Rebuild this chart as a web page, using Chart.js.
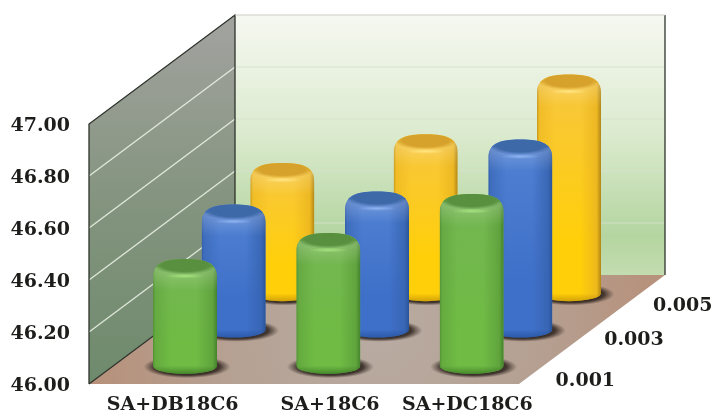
<!DOCTYPE html>
<html>
<head>
<meta charset="utf-8">
<style>html,body{margin:0;padding:0;background:#fff}canvas{display:block}</style>
<script src="https://cdn.jsdelivr.net/npm/chart.js@4/dist/chart.umd.js"></script>
</head>
<body>
<canvas id="c" width="719" height="416"></canvas>
<script>
const categories = ['SA+DB18C6', 'SA+18C6', 'SA+DC18C6'];
const concentrations = ['0.001', '0.003', '0.005'];
const series001 = [46.38, 46.48, 46.63];
const series003 = [46.45, 46.50, 46.70];
const series005 = [46.47, 46.58, 46.81];
const yTicks = [46, 46.2, 46.4, 46.6, 46.8, 47];

// Category label nudges along the front edge of the floor
const categoryLabelShift = [12, 26, 20];
// Vertical nudges for the depth labels beside the floor edge
const depthLabelDrop = [15, 11, 13];

// Oblique projection: offset of the back wall from the front plane
const DEPTH_X = 146, DEPTH_Y = -109;
const CAP_RY = 8;

const palettes = [
  { edge: '#3d7a28', side: '#5d9f3b', mid: '#6fbb44', upper: '#74b552', cap: '#58903f', glow: '#a6e47e', low: '#2f6a1e' },
  { edge: '#244f92', side: '#3763b0', mid: '#3f70c9', upper: '#4f80d2', cap: '#3e69a8', glow: '#8fb4f0', low: '#1f4d96' },
  { edge: '#a67c14', side: '#eab41f', mid: '#ffcf0a', upper: '#f7c63e', cap: '#d6a22c', glow: '#ffe683', low: '#b98908' }
];

class ShiftedCategoryScale extends Chart.CategoryScale {
  _computeLabelItems(area) {
    const items = super._computeLabelItems(area);
    items.forEach((item, i) => { item.options.translation[0] += categoryLabelShift[i] || 0; });
    return items;
  }
}
ShiftedCategoryScale.id = 'shiftedCategory';
ShiftedCategoryScale.defaults = Chart.CategoryScale.defaults;
Chart.register(ShiftedCategoryScale);

function linGrad(ctx, x0, y0, x1, y1, stops) {
  const g = ctx.createLinearGradient(x0, y0, x1, y1);
  stops.forEach(([p, c]) => g.addColorStop(p, c));
  return g;
}

function drawRoom(chart) {
  const { ctx, chartArea: a, scales: { y } } = chart;
  const L = a.left, R = a.right, T = a.top, B = a.bottom;
  const bx = DEPTH_X, by = DEPTH_Y;
  ctx.save();

  // back wall
  ctx.fillStyle = linGrad(ctx, 0, T + by, 0, B + by, [
    [0, '#f6f8f1'], [0.45, '#dcebcf'], [0.85, '#b4d5a0'], [1, '#c3dcb0']
  ]);
  ctx.fillRect(L + bx, T + by, R - L, B - T);

  // side wall
  ctx.beginPath();
  ctx.moveTo(L, B); ctx.lineTo(L, T); ctx.lineTo(L + bx, T + by); ctx.lineTo(L + bx, B + by); ctx.closePath();
  ctx.fillStyle = linGrad(ctx, 0, T + by, 0, B, [
    [0, '#a3a3a0'], [0.5, '#84947f'], [1, '#6e8a6c']
  ]);
  ctx.fill();

  // floor
  ctx.beginPath();
  ctx.moveTo(L, B); ctx.lineTo(R, B); ctx.lineTo(R + bx, B + by); ctx.lineTo(L + bx, B + by); ctx.closePath();
  const floor = ctx.createRadialGradient((L + R + bx) / 2, B + by / 2, 20, (L + R + bx) / 2, B + by / 2, 300);
  floor.addColorStop(0, '#b8aaa0');
  floor.addColorStop(0.5, '#b5a092');
  floor.addColorStop(1, '#b78f78');
  ctx.fillStyle = floor;
  ctx.fill();

  // gridlines across both walls
  yTicks.slice(1, -1).forEach(v => {
    const py = y.getPixelForValue(v);
    ctx.beginPath();
    ctx.moveTo(L, py); ctx.lineTo(L + bx, py + by);
    ctx.strokeStyle = 'rgba(232,240,226,0.9)';
    ctx.lineWidth = 1.4;
    ctx.stroke();
    ctx.beginPath();
    ctx.moveTo(L + bx, py + by); ctx.lineTo(R + bx, py + by);
    ctx.strokeStyle = 'rgba(215,225,208,0.85)';
    ctx.lineWidth = 1;
    ctx.stroke();
  });

  // wall edges
  ctx.strokeStyle = '#2e332c';
  ctx.lineWidth = 1.3;
  ctx.beginPath();
  ctx.moveTo(L, B); ctx.lineTo(L, T); ctx.lineTo(L + bx, T + by); ctx.lineTo(L + bx, B + by);
  ctx.lineTo(L, B);
  ctx.stroke();
  ctx.beginPath();
  ctx.moveTo(R + bx, T + by); ctx.lineTo(R + bx, B + by);
  ctx.stroke();
  ctx.strokeStyle = '#c9cbc6';
  ctx.lineWidth = 1.2;
  ctx.beginPath();
  ctx.moveTo(L + bx, T + by); ctx.lineTo(R + bx, T + by);
  ctx.stroke();
  ctx.restore();
}

function drawCylinder(ctx, cx, topY, baseY, r, pal) {
  const ry = CAP_RY;
  ctx.save();

  // contact shadow on the floor
  ctx.save();
  ctx.translate(cx + 2, baseY + 1);
  ctx.scale(1, 0.26);
  const sh = ctx.createRadialGradient(0, 0, r * 0.7, 0, 0, r * 1.36);
  sh.addColorStop(0, 'rgba(30,22,18,0.95)');
  sh.addColorStop(0.5, 'rgba(40,30,25,0.8)');
  sh.addColorStop(1, 'rgba(60,45,38,0)');
  ctx.fillStyle = sh;
  ctx.beginPath();
  ctx.arc(0, 0, r * 1.36, 0, Math.PI * 2);
  ctx.fill();
  ctx.restore();

  // silhouette with softened shoulders
  const path = new Path2D();
  path.moveTo(cx - r, baseY);
  path.lineTo(cx - r, topY + 11);
  path.bezierCurveTo(cx - r, topY - 3, cx - r * 0.72, topY - ry, cx, topY - ry);
  path.bezierCurveTo(cx + r * 0.72, topY - ry, cx + r, topY - 3, cx + r, topY + 11);
  path.lineTo(cx + r, baseY);
  path.ellipse(cx, baseY, r, ry, 0, 0, Math.PI);
  path.closePath();
  ctx.clip(path);

  // body tone runs from the paler upper part to the saturated foot
  ctx.fillStyle = linGrad(ctx, 0, topY, 0, baseY, [[0, pal.upper], [0.75, pal.mid], [1, pal.mid]]);
  ctx.fillRect(cx - r, topY - ry - 1, 2 * r, baseY - topY + 2 * ry + 2);

  // side shading, left to right
  ctx.fillStyle = linGrad(ctx, cx - r, 0, cx + r, 0, [
    [0, pal.edge + 'a0'], [0.04, pal.side + '90'], [0.28, pal.side + '00'], [0.68, pal.side + '00'],
    [0.93, pal.side + 'd0'], [1, pal.edge + 'e0']
  ]);
  ctx.fillRect(cx - r, topY - ry - 1, 2 * r, baseY - topY + 2 * ry + 2);

  // darker lip around the foot
  ctx.fillStyle = linGrad(ctx, 0, baseY, 0, baseY + ry, [[0, pal.low + '00'], [1, pal.low + 'a0']]);
  ctx.fillRect(cx - r, baseY, 2 * r, ry + 1);

  // rolled rim catches the light
  ctx.fillStyle = linGrad(ctx, 0, topY, 0, topY + 24, [[0, 'rgba(255,255,255,0.22)'], [1, 'rgba(255,255,255,0)']]);
  ctx.fillRect(cx - r, topY, 2 * r, 24);

  // top face, fading softly into the rim
  ctx.save();
  ctx.translate(cx, topY - 1);
  ctx.scale(1, (ry + 0.5) / (r * 0.98));
  const face = ctx.createRadialGradient(0, -r * 0.25, r * 0.3, 0, 0, r * 0.98);
  face.addColorStop(0, pal.cap);
  face.addColorStop(0.62, pal.cap);
  face.addColorStop(1, pal.cap + '00');
  ctx.fillStyle = face;
  ctx.beginPath();
  ctx.arc(0, 0, r * 0.98, 0, Math.PI * 2);
  ctx.fill();
  ctx.restore();

  // highlight where the rim rolls over
  ctx.save();
  ctx.translate(cx, topY + 9);
  ctx.scale(1, 0.12);
  const hl = ctx.createRadialGradient(0, 0, 0, 0, 0, r * 0.62);
  hl.addColorStop(0, pal.glow);
  hl.addColorStop(1, pal.glow + '00');
  ctx.fillStyle = hl;
  ctx.beginPath();
  ctx.arc(0, 0, r * 0.62, 0, Math.PI * 2);
  ctx.fill();
  ctx.restore();

  ctx.restore();
}

const roomPlugin = {
  id: 'room',
  beforeDatasetsDraw(chart) { drawRoom(chart); },
  beforeDatasetDraw(chart, args) {
    const { ctx } = chart;
    const i = args.index;
    const depth = (i + 0.5) / concentrations.length;
    args.meta.data.forEach(bar => {
      drawCylinder(ctx, bar.x + DEPTH_X * depth, bar.y + DEPTH_Y * depth,
        bar.base + DEPTH_Y * depth, bar.width / 2, palettes[i]);
    });
    return false;
  },
  afterDraw(chart) {
    // depth-axis labels run along the right edge of the floor
    const { ctx, chartArea: a } = chart;
    ctx.save();
    ctx.font = 'bold 19px "DejaVu Serif"';
    ctx.fillStyle = '#1d1d1b';
    ctx.textAlign = 'center';
    ctx.textBaseline = 'middle';
    concentrations.forEach((label, i) => {
      const depth = (i + 0.5) / concentrations.length;
      ctx.fillText(label, a.right + DEPTH_X * depth + 42, a.bottom + DEPTH_Y * depth + depthLabelDrop[i]);
    });
    ctx.restore();
  }
};

const seriesValues = [series001, series003, series005];

new Chart(document.getElementById('c'), {
  type: 'bar',
  data: {
    labels: categories,
    datasets: concentrations.map((label, i) => ({
      label,
      data: seriesValues[i],
      base: yTicks[0],
      grouped: false,
      categoryPercentage: 1,
      barPercentage: 0.4466,
      backgroundColor: palettes[i].mid
    }))
  },
  plugins: [roomPlugin],
  options: {
    responsive: false,
    animation: false,
    events: [],
    layout: { padding: { top: 124, right: 200, left: 0, bottom: 0 } },
    plugins: { legend: { display: false }, tooltip: { enabled: false } },
    scales: {
      x: {
        type: 'shiftedCategory',
        grid: { display: false, drawTicks: false },
        border: { display: false },
        afterFit(s) { s.height = 32; },
        ticks: { padding: 10, color: '#1d1d1b', font: { family: '"DejaVu Serif"', weight: 'bold', size: 19 }, maxRotation: 0, autoSkip: false }
      },
      y: {
        min: 46, max: 47,
        grid: { display: false, drawTicks: false },
        border: { display: false },
        afterFit(s) { s.width = 89; },
        afterBuildTicks(s) { s.ticks = yTicks.map(value => ({ value })); },
        ticks: {
          padding: 19, labelOffset: 2, color: '#1d1d1b',
          font: { family: '"DejaVu Serif"', weight: 'bold', size: 19 },
          callback: v => Number(v).toFixed(2)
        }
      }
    }
  }
});
</script>
</body>
</html>
